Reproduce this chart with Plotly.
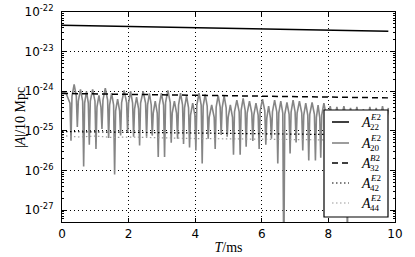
import plotly.graph_objects as go

# ---------------- data ----------------
t_a22 = [0.0, 1.0, 2.0, 3.0, 4.0, 5.0, 6.0, 7.0, 8.0, 9.0, 9.8]
a22 = [4.6e-23, 4.45e-23, 4.3e-23, 4.15e-23, 4.0e-23, 3.85e-23, 3.7e-23, 3.58e-23, 3.45e-23, 3.35e-23, 3.25e-23]

t_a32 = [0.0, 2.0, 4.0, 6.0, 8.0, 9.8]
a32 = [8.8e-25, 8.4e-25, 8.0e-25, 7.5e-25, 7.1e-25, 6.8e-25]

t_a42 = [0.0, 2.0, 4.0, 6.0, 8.0, 9.8]
a42 = [9.6e-26, 9.2e-26, 8.7e-26, 8.3e-26, 8.0e-26, 7.8e-26]

t_a44 = [0.0, 0.5, 1.0, 1.5, 2.0, 3.0, 4.0, 5.0, 6.0, 7.0, 8.0, 9.0, 9.8]
a44 = [7.6e-26, 7.0e-26, 7.4e-26, 6.8e-26, 7.0e-26, 6.6e-26, 6.4e-26, 6.3e-26, 6.1e-26, 6.0e-26, 5.9e-26, 5.8e-26, 5.7e-26]

t_a20 = [
    0.00, 0.12, 0.24,
    0.27, 0.30, 0.365, 0.43,
    0.46, 0.49, 0.555, 0.62,
    0.65, 0.68, 0.735, 0.79,
    0.82, 0.85, 0.92, 0.99,
    1.02, 1.05, 1.11, 1.17,
    1.20, 1.23, 1.30, 1.37,
    1.40, 1.43, 1.49, 1.55,
    1.58, 1.61, 1.67, 1.73,
    1.76, 1.79, 1.865, 1.94,
    1.97, 2.00, 2.06, 2.12,
    2.15, 2.18, 2.24, 2.30,
    2.33, 2.36, 2.435, 2.51,
    2.54, 2.57, 2.625, 2.68,
    2.71, 2.74, 2.80, 2.86,
    2.89, 2.92, 2.985, 3.05,
    3.08, 3.11, 3.18, 3.25,
    3.28, 3.31, 3.375, 3.44,
    3.47, 3.50, 3.56, 3.62,
    3.65, 3.68, 3.74, 3.80,
    3.83, 3.86, 3.925, 3.99,
    4.02, 4.05, 4.115, 4.18,
    4.21, 4.24, 4.30, 4.36,
    4.39, 4.42, 4.495, 4.57,
    4.60, 4.63, 4.69, 4.75,
    4.78, 4.81, 4.87, 4.93,
    4.96, 4.99, 5.055, 5.12,
    5.15, 5.18, 5.25, 5.32,
    5.35, 5.38, 5.44, 5.50,
    5.53, 5.56, 5.63, 5.70,
    5.73, 5.76, 5.825, 5.89,
    5.92, 5.95, 6.02, 6.09,
    6.12, 6.15, 6.205, 6.26,
    6.29, 6.32, 6.385, 6.45,
    6.48, 6.51, 6.57, 6.63,
    6.66, 6.69, 6.755, 6.82,
    6.85, 6.88, 6.94, 7.00,
    7.03, 7.06, 7.13, 7.20,
    7.23, 7.26, 7.32, 7.38,
    7.41, 7.44, 7.51, 7.58,
    7.61, 7.64, 7.69, 7.74,
    7.77, 7.80, 7.865, 7.93,
    7.96, 7.99, 8.055, 8.12,
    8.15, 8.18, 8.255, 8.33,
    8.36, 8.39, 8.465, 8.54,
    8.57, 8.60, 8.665, 8.73,
    8.76, 8.79, 8.855, 8.92,
    8.95, 8.98, 9.05, 9.12,
    9.15, 9.18, 9.245, 9.31,
    9.34, 9.37, 9.435, 9.50,
    9.53, 9.56, 9.625, 9.69,
    9.72, 9.75, 9.80,
]
a20 = [
    9.5e-25, 9.0e-25, 5.0e-25,
    5.6e-26, 7.4e-25, 1.48e-24, 7.4e-25,
    1.26e-25, 5.6e-25, 1.12e-24, 5.6e-25,
    1.26e-26, 5.0e-25, 1.0e-24, 5.0e-25,
    4.5e-26, 5.6e-25, 1.12e-24, 5.6e-25,
    3.5e-26, 4.0e-25, 7.9e-25, 4.0e-25,
    1.12e-25, 6.0e-25, 1.2e-24, 6.0e-25,
    6.6e-26, 4.5e-25, 8.9e-25, 4.5e-25,
    7.9e-27, 3.2e-25, 6.3e-25, 3.2e-25,
    7.6e-26, 5.2e-25, 1.05e-24, 5.2e-25,
    8.9e-26, 5.0e-25, 1.0e-24, 5.0e-25,
    7.1e-26, 3.6e-25, 7.1e-25, 3.6e-25,
    4.3e-26, 5.0e-25, 1.0e-24, 5.0e-25,
    7.1e-26, 4.5e-25, 8.9e-25, 4.5e-25,
    7.6e-26, 2.8e-25, 5.6e-25, 2.8e-25,
    2.2e-26, 4.5e-25, 8.9e-25, 4.5e-25,
    2.2e-26, 5.2e-25, 1.05e-24, 5.2e-25,
    5.0e-26, 2.8e-25, 5.6e-25, 2.8e-25,
    6.3e-26, 4.5e-25, 8.9e-25, 4.5e-25,
    4.7e-26, 3.8e-25, 7.6e-25, 3.8e-25,
    3.8e-26, 2.5e-25, 5.0e-25, 2.5e-25,
    3.2e-26, 4.5e-25, 8.9e-25, 4.5e-25,
    1.5e-26, 4.2e-25, 8.3e-25, 4.2e-25,
    6.3e-26, 2.2e-25, 4.5e-25, 2.2e-25,
    3.5e-26, 4.0e-25, 7.9e-25, 4.0e-25,
    7.9e-26, 3.8e-25, 7.6e-25, 3.8e-25,
    7.1e-26, 2.2e-25, 4.5e-25, 2.2e-25,
    2.5e-26, 3.0e-25, 6.0e-25, 3.0e-25,
    2.5e-26, 3.3e-25, 6.6e-25, 3.3e-25,
    4.0e-26, 2.8e-25, 5.6e-25, 2.8e-25,
    5.6e-26, 2.5e-25, 5.0e-25, 2.5e-25,
    3.5e-26, 3.2e-25, 6.3e-25, 3.2e-25,
    4.5e-26, 2.1e-25, 4.2e-25, 2.1e-25,
    6.3e-26, 3.0e-25, 6.0e-25, 3.0e-25,
    1.5e-26, 2.8e-25, 5.6e-25, 2.8e-25,
    3.0e-29, 2.6e-25, 5.2e-25, 2.6e-25,
    2.7e-26, 3.0e-25, 6.0e-25, 3.0e-25,
    5.1e-26, 2.8e-25, 5.6e-25, 2.8e-25,
    3.2e-26, 2.5e-25, 5.0e-25, 2.5e-25,
    1.8e-26, 2.6e-25, 5.2e-25, 2.6e-25,
    1.8e-26, 2.2e-25, 4.5e-25, 2.2e-25,
    2.1e-26, 2.5e-25, 5.0e-25, 2.5e-25,
    4.0e-26, 2.1e-25, 4.2e-25, 2.1e-25,
    3.2e-26, 2.0e-25, 4.0e-25, 2.0e-25,
    5.0e-26, 2.1e-25, 4.2e-25, 2.1e-25,
    1.0e-28, 1.9e-25, 3.8e-25, 1.9e-25,
    3.2e-26, 2.0e-25, 4.0e-25, 2.0e-25,
    4.0e-26, 1.8e-25, 3.5e-25, 1.8e-25,
    2.5e-26, 2.0e-25, 4.0e-25, 2.0e-25,
    5.0e-26, 1.9e-25, 3.8e-25, 1.9e-25,
    3.2e-26, 2.1e-25, 4.2e-25, 2.1e-25,
    4.0e-26, 1.9e-25, 3.8e-25,
]
assert len(t_a20) == len(a20)

x_tick_vals = [0, 2, 4, 6, 8, 10]
x_tick_text = ["0", "2", "4", "6", "8", "10"]
y_tick_vals = [1e-27, 1e-26, 1e-25, 1e-24, 1e-23, 1e-22]
y_tick_text = ["10<sup>-27</sup>", "10<sup>-26</sup>", "10<sup>-25</sup>",
               "10<sup>-24</sup>", "10<sup>-23</sup>", "10<sup>-22</sup>"]
y_minor_vals = [m * d for d in [1e-28, 1e-27, 1e-26, 1e-25, 1e-24, 1e-23] for m in range(2, 10)]

x_title = "<i>T</i>/ms"
y_title = "|<i>A</i>|/10 Mpc"

# legend labels: (sub, sup)
legend_sub = ["22", "20", "32", "42", "44"]
legend_sup = ["E2", "E2", "B2", "E2", "E2"]

# ---------------- styles ----------------
W, H = 415, 257
ML, MR, MT, MB = 62, 20, 12, 35
PW, PH = W - ML - MR, H - MT - MB
serif = "Liberation Serif"

styles = [
    dict(color="black", width=1.5),
    dict(color="#858585", width=1.6),
    dict(color="black", width=1.5, dash="6px,4px"),
    dict(color="black", width=1.2, dash="1.5px,2.5px"),
    dict(color="#999999", width=1.2, dash="1.5px,2.5px"),
]
series = [(t_a22, a22), (t_a20, a20), (t_a32, a32), (t_a42, a42), (t_a44, a44)]

fig = go.Figure()
for (tx, ty), st, sb, sp in zip(series, styles, legend_sub, legend_sup):
    fig.add_trace(go.Scatter(x=tx, y=ty, mode="lines", line=st, showlegend=False,
                             name=f"A_{sb}^{sp}"))


def px(x):
    return (x - ML) / PW


def py(y):
    return 1 - (y - MT) / PH


# custom legend (stacked super/subscripts like the reference)
shapes = [dict(type="rect", xref="paper", yref="paper", layer="above",
               x0=px(324), x1=px(388), y0=py(217), y1=py(110),
               fillcolor="white", line=dict(color="black", width=1.2))]
annotations = []
rows_y = [122, 143, 163, 183, 203]
for yy, st, sb, sp in zip(rows_y, styles, legend_sub, legend_sup):
    shapes.append(dict(type="line", xref="paper", yref="paper", layer="above",
                       x0=px(332), x1=px(349), y0=py(yy), y1=py(yy), line=st))
    annotations.append(dict(xref="paper", yref="paper", x=px(359), y=py(yy), xanchor="left",
                            yanchor="middle", text="<i>A</i>", showarrow=False,
                            font=dict(family=serif, size=14, color="black")))
    annotations.append(dict(xref="paper", yref="paper", x=px(368), y=py(yy - 5), xanchor="left",
                            yanchor="middle", text=f"<i>{sp[0]}</i>{sp[1:]}", showarrow=False,
                            font=dict(family=serif, size=9, color="black")))
    annotations.append(dict(xref="paper", yref="paper", x=px(368), y=py(yy + 5), xanchor="left",
                            yanchor="middle", text=sb, showarrow=False,
                            font=dict(family=serif, size=9, color="black")))

# y-axis title as rotated text placed like the reference
annotations.append(dict(xref="paper", yref="paper", x=px(20), y=py(118), xanchor="center",
                        yanchor="middle", text=y_title, textangle=-90, showarrow=False,
                        font=dict(family=serif, size=14, color="black")))

tickfont = dict(family="DejaVu Sans", size=12, color="black")

fig.update_layout(
    width=W, height=H,
    margin=dict(l=ML, r=MR, t=MT, b=MB, autoexpand=False),
    paper_bgcolor="white", plot_bgcolor="white",
    showlegend=False,
    shapes=shapes, annotations=annotations,
    xaxis=dict(
        range=[0, 10], tickmode="array", tickvals=x_tick_vals, ticktext=x_tick_text,
        ticks="inside", ticklen=4, tickcolor="black", tickwidth=1,
        showline=True, linecolor="black", linewidth=1.2, mirror="allticks",
        showgrid=True, gridcolor="black", gridwidth=1, griddash="1px,3px",
        zeroline=False, tickfont=tickfont, automargin=False,
        title=dict(text=x_title, font=dict(family=serif, size=14, color="black"), standoff=2),
    ),
    yaxis=dict(
        type="log", range=[-27.3, -22.0],
        tickmode="array", tickvals=y_tick_vals, ticktext=y_tick_text,
        ticks="inside", ticklen=4, tickcolor="black", tickwidth=1,
        minor=dict(tickmode="array", tickvals=y_minor_vals, ticks="inside",
                   ticklen=2, tickcolor="black", tickwidth=0.8, showgrid=False),
        showline=True, linecolor="black", linewidth=1.2, mirror="allticks",
        showgrid=True, gridcolor="black", gridwidth=1, griddash="1px,3px",
        zeroline=False, tickfont=tickfont, ticklabelstandoff=5, automargin=False,
    ),
)

fig.write_html("out.html", config={"displayModeBar": False},
               post_script="document.body.style.margin='0';document.body.style.overflow='hidden';")
